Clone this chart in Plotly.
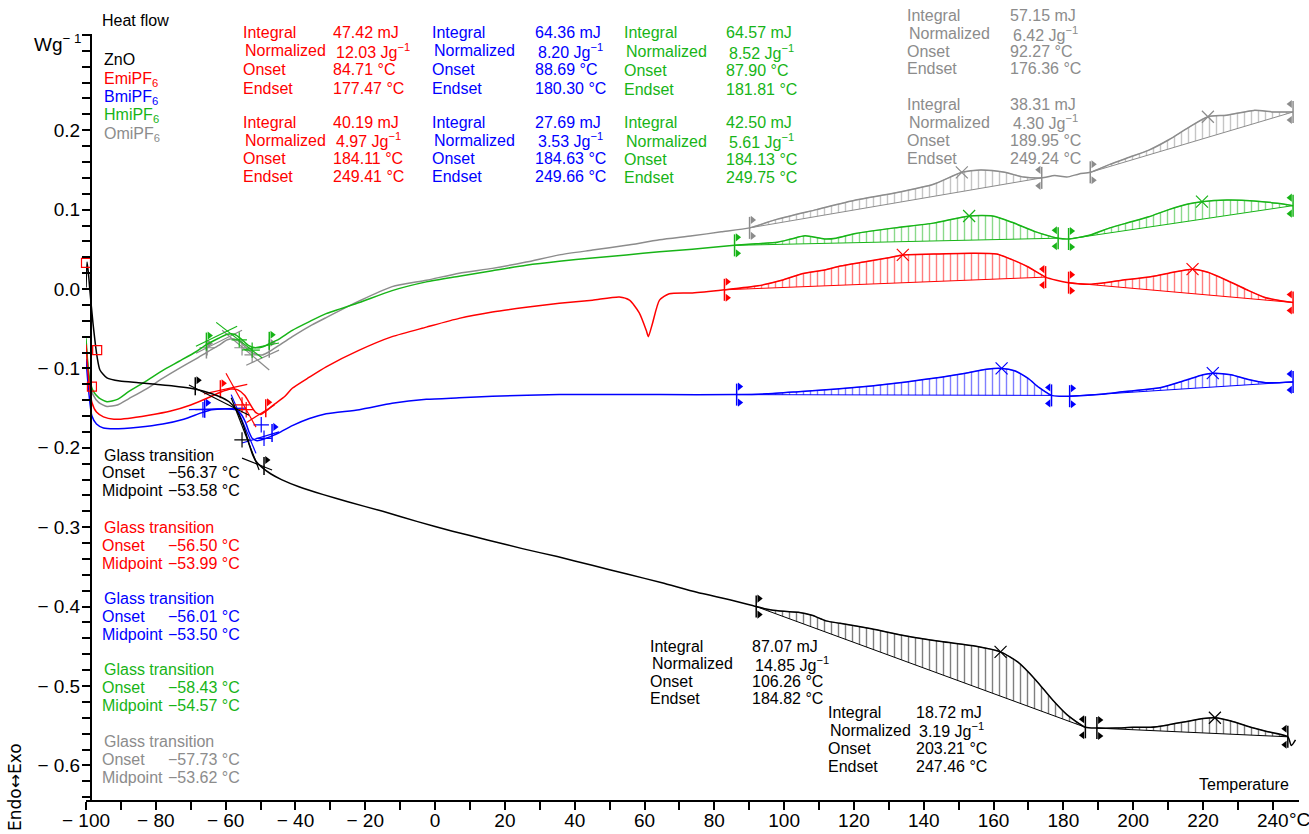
import numpy as np
import plotly.graph_objects as go

FONT = "Liberation Sans, Arial, Helvetica, sans-serif"

C_ZNO = "#000000"
C_EMI = "#ff0000"
C_BMI = "#0000ff"
C_HMI = "#17b417"
C_OMI = "#8c8c8c"

# ---------------- heat-flow curves: temperature (°C) / heat flow (W g-1)
zno_t = [-100, -99.7, -99.3, -98.9, -98, -96.8, -96, -94, -90.3, -85, -80, -75, -70, -66, -62,
         -59, -57, -55.5, -54.3, -53.3, -52.4, -51.3, -49.5, -47, -44, -39, -32, -25, -15, -5,
         5, 15, 25, 35, 45, 55, 65, 75, 85, 92, 96, 100, 104, 108, 112, 116, 125, 135, 145,
         155, 162, 167, 172, 177, 181, 186.3, 189.6, 195, 200, 205, 210, 215, 220, 223.4, 228,
         233, 238, 244.3, 245.3, 246.5]
zno_hf = [0.002, 0.034, 0.020, -0.001, -0.043, -0.086, -0.102, -0.112, -0.116, -0.118, -0.120,
          -0.122, -0.125, -0.129, -0.135, -0.142, -0.152, -0.165, -0.180, -0.195, -0.207, -0.217,
          -0.225, -0.233, -0.240, -0.249, -0.259, -0.268, -0.280, -0.293, -0.305, -0.316, -0.327,
          -0.337, -0.348, -0.359, -0.370, -0.382, -0.392, -0.400, -0.404, -0.406, -0.407, -0.411,
          -0.418, -0.421, -0.428, -0.437, -0.444, -0.450, -0.457, -0.470, -0.492, -0.518, -0.536,
          -0.552, -0.553, -0.553, -0.552, -0.552, -0.549, -0.545, -0.541, -0.540, -0.544, -0.551,
          -0.557, -0.564, -0.575, -0.568]

emi_t = [-100, -99.2, -98.3, -97, -95, -92, -88, -82, -76, -70, -65, -61.5, -58.5, -56.5, -54.5,
         -53, -51.5, -50, -48.5, -46, -43, -40.9, -36, -31.2, -21.7, -12.3, -2.5, 6.9, 16.4, 26.1,
         35.6, 45.1, 52.8, 55.7, 58.5, 60.5, 61.1, 62.3, 64.3, 67.1, 73.7, 82.9, 92.5, 99.3,
         104.9, 111.6, 116.1, 122.8, 129.5, 134.0, 142.8, 154.0, 160.9, 165.3, 169.8, 174.9,
         178.0, 181.5, 187.7, 196.7, 204.5, 210.2, 217.0, 221.4, 226.8, 232.6, 238.0, 245.8]
emi_hf = [-0.070, -0.115, -0.143, -0.155, -0.161, -0.164, -0.163, -0.159, -0.154, -0.146, -0.137,
          -0.130, -0.126, -0.127, -0.134, -0.145, -0.155, -0.158, -0.154, -0.145, -0.135, -0.125,
          -0.111, -0.098, -0.077, -0.060, -0.048, -0.037, -0.029, -0.023, -0.018, -0.014, -0.010,
          -0.014, -0.030, -0.052, -0.060, -0.043, -0.014, -0.006, -0.005, -0.001, 0.004, 0.011,
          0.019, 0.024, 0.029, 0.034, 0.039, 0.043, 0.044, 0.045, 0.044, 0.037, 0.028, 0.015,
          0.011, 0.008, 0.006, 0.011, 0.015, 0.020, 0.025, 0.021, 0.011, -0.001, -0.011, -0.017]

bmi_t = [-100, -99.2, -98.3, -97, -95, -92, -85, -78, -72, -67, -64, -60, -57, -55.5, -54.3,
         -53.3, -52.4, -51, -49, -46.7, -44.7, -40.9, -36, -31.2, -21.7, -12.3, -2.5, 6.9, 16.4,
         35.6, 64.3, 86.4, 95, 105, 115, 125, 135, 145, 152, 158, 162.3, 166, 170, 173, 176.6,
         179, 181.8, 190, 200, 208, 215, 220, 222.8, 228, 233, 238, 245.8]
bmi_hf = [-0.088, -0.130, -0.160, -0.170, -0.175, -0.176, -0.174, -0.170, -0.164, -0.156, -0.152,
          -0.151, -0.152, -0.158, -0.168, -0.180, -0.188, -0.191, -0.189, -0.185, -0.181, -0.172,
          -0.163, -0.157, -0.152, -0.144, -0.139, -0.137, -0.135, -0.133, -0.133, -0.133, -0.132,
          -0.129, -0.126, -0.122, -0.117, -0.111, -0.106, -0.101, -0.100, -0.103, -0.113, -0.124,
          -0.134, -0.135, -0.135, -0.133, -0.128, -0.124, -0.115, -0.108, -0.106, -0.108, -0.114,
          -0.118, -0.117]

hmi_t = [-100, -99.1, -98, -96.3, -94, -91, -87.7, -82.8, -78.2, -73.3, -68.5, -65.5, -62, -59.5,
         -57.5, -55.5, -53.5, -51.5, -49.5, -47.5, -44.7, -40.9, -36, -31.2, -21.7, -12.3, -2.5,
         6.9, 16.4, 26.1, 35.6, 45.1, 54.8, 64.3, 73.7, 85.8, 92, 98.1, 102, 106, 111.6, 114.9,
         120.5, 131.7, 142.8, 153.0, 159.7, 165.3, 172.1, 178.5, 181.5, 187.7, 193.3, 198.9,
         204.5, 210.2, 215.7, 219.7, 226.8, 234.6, 241.3, 245.8]
hmi_hf = [-0.062, -0.110, -0.128, -0.137, -0.142, -0.139, -0.129, -0.116, -0.103, -0.091, -0.079,
          -0.070, -0.062, -0.057, -0.057, -0.063, -0.071, -0.074, -0.073, -0.069, -0.063, -0.052,
          -0.041, -0.031, -0.017, -0.002, 0.009, 0.016, 0.023, 0.030, 0.035, 0.039, 0.043, 0.047,
          0.050, 0.055, 0.057, 0.059, 0.063, 0.067, 0.063, 0.064, 0.070, 0.077, 0.083, 0.092,
          0.092, 0.084, 0.072, 0.064, 0.063, 0.068, 0.077, 0.084, 0.091, 0.100, 0.107, 0.110,
          0.112, 0.111, 0.108, 0.105]

omi_t = [-100, -99, -98, -96.3, -94, -91, -87.7, -82.8, -78.2, -73.3, -68.5, -65.5, -62, -59.5,
         -57.5, -55.5, -53.5, -51.5, -49.5, -47.5, -44.7, -40.9, -36, -31.2, -21.7, -12.3, -2.5,
         6.9, 16.4, 26.1, 35.6, 45.1, 54.8, 64.3, 73.7, 82, 90.1, 98.1, 109.3, 120.5, 131.7,
         142.8, 150.9, 156.3, 163.2, 168.6, 173.8, 177.5, 181, 184.5, 187.7, 193.3, 198.9, 204.5,
         210.2, 215.7, 221.4, 226.8, 234.6, 240.2, 245.8]
omi_hf = [-0.070, -0.115, -0.133, -0.143, -0.148, -0.146, -0.138, -0.126, -0.113, -0.100, -0.088,
          -0.080, -0.071, -0.064, -0.063, -0.068, -0.077, -0.082, -0.083, -0.079, -0.071, -0.060,
          -0.047, -0.036, -0.015, 0.003, 0.011, 0.020, 0.026, 0.034, 0.043, 0.049, 0.055, 0.062,
          0.067, 0.072, 0.077, 0.088, 0.100, 0.112, 0.121, 0.132, 0.147, 0.150, 0.147, 0.141,
          0.140, 0.143, 0.141, 0.145, 0.147, 0.157, 0.166, 0.175, 0.188, 0.203, 0.217, 0.219,
          0.225, 0.223, 0.223]

# ---------------- integration windows: (start °C, end °C, peak °C)
zno_windows = [(92.0, 186.3, 162.0), (189.6, 244.3, 223.4)]
emi_windows = [(82.9, 174.9, 134.0), (181.5, 245.8, 217.0)]
bmi_windows = [(86.4, 176.6, 162.3), (181.8, 245.8, 222.8)]
hmi_windows = [(85.8, 178.5, 153.0), (181.5, 245.8, 219.7)]
omi_windows = [(90.1, 173.8, 150.9), (187.7, 245.8, 221.4)]

# ---------------- glass transition: limits (°C), tangent segments, marks
zno_gt_limits = (-68.7, -49.0)
emi_gt_limits = (-61.5, -48.5)
bmi_gt_limits = (-66.0, -46.7)
hmi_gt_limits = (-65.5, -47.5)
omi_gt_limits = (-65.5, -47.5)

zno_gt_tangents = [((-70.5, -0.121), (-53.3, -0.159)), ((-58.4, -0.137), (-50.4, -0.228)),
                   ((-55.3, -0.213), (-46.7, -0.228))]
emi_gt_tangents = [((-66.2, -0.132), (-53.8, -0.120)), ((-59.9, -0.106), (-51.3, -0.174)),
                   ((-54.0, -0.168), (-46.0, -0.146))]
bmi_gt_tangents = [((-70.5, -0.152), (-54.1, -0.150)), ((-58.4, -0.133), (-51.3, -0.207)),
                   ((-55.3, -0.194), (-44.7, -0.180))]
hmi_gt_tangents = [((-68.5, -0.072), (-56.7, -0.047)), ((-62.7, -0.042), (-49.5, -0.087)),
                   ((-55.3, -0.077), (-44.7, -0.068))]
omi_gt_tangents = [((-68.5, -0.081), (-55.3, -0.052)), ((-61.0, -0.052), (-47.5, -0.102)),
                   ((-54.1, -0.096), (-44.7, -0.077))]

zno_gt_marks = [(-55.3, -0.190)]
emi_gt_marks = [(-55.3, -0.146), (-54.1, -0.152)]
bmi_gt_marks = [(-66.5, -0.152), (-49.8, -0.171), (-49.0, -0.188)]
hmi_gt_marks = [(-56.1, -0.064), (-52.4, -0.077)]
omi_gt_marks = [(-65.3, -0.074), (-55.3, -0.074), (-52.4, -0.083)]

# cursor boxes at the start of the run
cursor_t = [-100.0, -100.9, -96.8, -100.6, -98.3]
cursor_hf = [0.033, -0.067, -0.077, -0.092, -0.123]

# ---------------- tables of results
int_labels = ["Integral", "Normalized", "Onset", "Endset"]
emi_int = [["47.42 mJ", "12.03 Jg<sup>−1</sup>", "84.71 °C", "177.47 °C"],
           ["40.19 mJ", "4.97 Jg<sup>−1</sup>", "184.11 °C", "249.41 °C"]]
bmi_int = [["64.36 mJ", "8.20 Jg<sup>−1</sup>", "88.69 °C", "180.30 °C"],
           ["27.69 mJ", "3.53 Jg<sup>−1</sup>", "184.63 °C", "249.66 °C"]]
hmi_int = [["64.57 mJ", "8.52 Jg<sup>−1</sup>", "87.90 °C", "181.81 °C"],
           ["42.50 mJ", "5.61 Jg<sup>−1</sup>", "184.13 °C", "249.75 °C"]]
omi_int = [["57.15 mJ", "6.42 Jg<sup>−1</sup>", "92.27 °C", "176.36 °C"],
           ["38.31 mJ", "4.30 Jg<sup>−1</sup>", "189.95 °C", "249.24 °C"]]
zno_int = [["87.07 mJ", "14.85 Jg<sup>−1</sup>", "106.26 °C", "184.82 °C"],
           ["18.72 mJ", "3.19 Jg<sup>−1</sup>", "203.21 °C", "247.46 °C"]]

gt_labels = ["Glass transition", "Onset", "Midpoint"]
zno_gt = ["−56.37 °C", "−53.58 °C"]
emi_gt = ["−56.50 °C", "−53.99 °C"]
bmi_gt = ["−56.01 °C", "−53.50 °C"]
hmi_gt = ["−58.43 °C", "−54.57 °C"]
omi_gt = ["−57.73 °C", "−53.62 °C"]

names = ["ZnO", "EmiPF<sub>6</sub>", "BmiPF<sub>6</sub>", "HmiPF<sub>6</sub>", "OmiPF<sub>6</sub>"]

x_ticks = list(range(-100, 241, 20))
x_ticktext = [("− " + str(-v)) if v < 0 else str(v) for v in x_ticks]
y_ticks = [0.2, 0.1, 0.0, -0.1, -0.2, -0.3, -0.4, -0.5, -0.6]
y_ticktext = ["0.2", "0.1", "0.0", "− 0.1", "− 0.2", "− 0.3", "− 0.4", "− 0.5", "− 0.6"]

# ---------------- geometry of the plotting area
W, H = 1309, 834
ML, MR, MT, MB = 86, 10, 34, 34
PW, PH = W - ML - MR, H - MT - MB
X0, X1 = -100.0, 247.5
Y0, Y1 = -0.6436, 0.3212
DX = (X1 - X0) / PW      # °C per pixel
DY = (Y1 - Y0) / PH      # W g-1 per pixel
TXT = 16

series = [
    dict(t=zno_t, hf=zno_hf, c=C_ZNO, win=zno_windows, gl=zno_gt_limits, tg=zno_gt_tangents, mk=zno_gt_marks),
    dict(t=emi_t, hf=emi_hf, c=C_EMI, win=emi_windows, gl=emi_gt_limits, tg=emi_gt_tangents, mk=emi_gt_marks),
    dict(t=bmi_t, hf=bmi_hf, c=C_BMI, win=bmi_windows, gl=bmi_gt_limits, tg=bmi_gt_tangents, mk=bmi_gt_marks),
    dict(t=hmi_t, hf=hmi_hf, c=C_HMI, win=hmi_windows, gl=hmi_gt_limits, tg=hmi_gt_tangents, mk=hmi_gt_marks),
    dict(t=omi_t, hf=omi_hf, c=C_OMI, win=omi_windows, gl=omi_gt_limits, tg=omi_gt_tangents, mk=omi_gt_marks),
]

fig = go.Figure()
SPL = dict(shape="spline", smoothing=0.6)

for s in reversed(series):
    t = np.asarray(s["t"], float)
    hf = np.asarray(s["hf"], float)
    c = s["c"]

    # hatched integration areas between curve and straight baseline
    for (a, b, pk) in s["win"]:
        ya, yb = np.interp(a, t, hf), np.interp(b, t, hf)
        fig.add_trace(go.Scatter(x=[a, b], y=[ya, yb], mode="lines",
                                 line=dict(color=c, width=1), hoverinfo="skip"))
        m = (t >= a - 1e-9) & (t <= b + 1e-9)
        fig.add_trace(go.Scatter(x=t[m], y=hf[m], mode="lines", line=dict(color=c, width=0.5, **SPL),
                                 fill="tonexty", fillcolor="rgba(0,0,0,0)",
                                 fillpattern=dict(shape="|", size=7, solidity=0.2,
                                                  fgcolor=c, bgcolor="rgba(0,0,0,0)"),
                                 hoverinfo="skip"))

    # the curve itself
    fig.add_trace(go.Scatter(x=t, y=hf, mode="lines", line=dict(color=c, width=1.5, **SPL)))

    # integration limit flags and peak crosses
    bx, by, trx, tr_y, tlx, tl_y, pkx, pky = [], [], [], [], [], [], [], []
    for (a, b, pk) in s["win"]:
        for xv, sgn in ((a, 1), (b, -1)):
            yv = np.interp(xv, t, hf)
            bx += [xv, xv, None]
            by += [yv - 11 * DY, yv + 11 * DY, None]
            xs = xv + sgn * 3 * DX
            if sgn > 0:
                trx += [xs, xs]; tr_y += [yv + 8 * DY, yv - 8 * DY]
            else:
                tlx += [xs, xs]; tl_y += [yv + 8 * DY, yv - 8 * DY]
        pkx.append(pk); pky.append(np.interp(pk, t, hf))

    # glass transition construction
    ga, gb = s["gl"]
    for xv in (ga, gb):
        yv = np.interp(xv, t, hf)
        bx += [xv, xv, None]
        by += [yv - 6 * DY, yv + 12 * DY, None]
        trx.append(xv + 3 * DX); tr_y.append(yv + 9 * DY)
    tgx, tgy = [], []
    for (p, q) in s["tg"]:
        tgx += [p[0], q[0], None]
        tgy += [p[1], q[1], None]

    fig.add_trace(go.Scatter(x=bx, y=by, mode="lines", line=dict(color=c, width=1.5), hoverinfo="skip"))
    fig.add_trace(go.Scatter(x=tgx, y=tgy, mode="lines", line=dict(color=c, width=1.2), hoverinfo="skip"))
    fig.add_trace(go.Scatter(x=trx, y=tr_y, mode="markers",
                             marker=dict(symbol="triangle-right", size=7, color=c, line=dict(width=0))))
    if tlx:
        fig.add_trace(go.Scatter(x=tlx, y=tl_y, mode="markers",
                                 marker=dict(symbol="triangle-left", size=7, color=c, line=dict(width=0))))
    fig.add_trace(go.Scatter(x=pkx, y=pky, mode="markers",
                             marker=dict(symbol="x-thin", size=12, line=dict(color=c, width=1.2))))
    fig.add_trace(go.Scatter(x=[m_[0] for m_ in s["mk"]], y=[m_[1] for m_ in s["mk"]], mode="markers",
                             marker=dict(symbol="cross-thin", size=11, line=dict(color=c, width=1.2))))

fig.add_trace(go.Scatter(x=cursor_t, y=cursor_hf, mode="markers", cliponaxis=False,
                         marker=dict(symbol="square-open", size=9, color=C_EMI, line=dict(width=1.2))))


def px_paper(px, py):
    return (px - ML) / PW, (H - MB - py) / PH


def text(px, py, s, color, size=TXT, anchor="left", family=FONT, **kw):
    xp, yp = px_paper(px, py)
    fig.add_annotation(xref="paper", yref="paper", x=xp, y=yp, text=s, showarrow=False,
                       xanchor=anchor, yanchor="middle", font=dict(family=family, size=size, color=color), **kw)


# titles and sample names
text(100, 20, "Heat flow", "black", size=16)
for nm, c, py in zip(names, [C_ZNO, C_EMI, C_BMI, C_HMI, C_OMI], [60, 79, 97, 116, 134]):
    text(102, py, nm, c)
text(83, 43, "Wg<sup>− 1</sup>", "black", size=19, anchor="right")
text(1291, 784, "Temperature", "black", size=16, anchor="right")
text(1300, 820, "°C", "black", size=19, anchor="center")
text(15, 787, "Endo↔Exo", "black", size=17, anchor="center", textangle=-90, family="DejaVu Sans")

# integration result tables: (values, colour, label x, value x, first row y, row step)
tables = [
    (emi_int[0], C_EMI, 241, 331, 32, 18.7), (emi_int[1], C_EMI, 241, 331, 122, 18.2),
    (bmi_int[0], C_BMI, 430, 533, 32, 18.7), (bmi_int[1], C_BMI, 430, 533, 122, 18.2),
    (hmi_int[0], C_HMI, 622, 724, 33, 18.7), (hmi_int[1], C_HMI, 622, 724, 123, 18.2),
    (omi_int[0], C_OMI, 905, 1008, 16, 17.5), (omi_int[1], C_OMI, 905, 1008, 104, 18),
    (zno_int[0], C_ZNO, 648, 750, 646, 17.5), (zno_int[1], C_ZNO, 826, 914, 712, 18),
]
for vals, c, lx, vx, y0, step in tables:
    for i, (lab, v) in enumerate(zip(int_labels, vals)):
        text(lx + (2 if i == 1 else 0), y0 + i * step, lab, c)
        text(vx + (3 if i == 1 else 0), y0 + i * step, v, c)

gt_tables = [(zno_gt, C_ZNO, 455), (emi_gt, C_EMI, 527), (bmi_gt, C_BMI, 598),
             (hmi_gt, C_HMI, 669), (omi_gt, C_OMI, 741)]
for vals, c, y0 in gt_tables:
    text(102, y0, gt_labels[0], c)
    text(100, y0 + 18, gt_labels[1], c)
    text(100, y0 + 36, gt_labels[2], c)
    text(166, y0 + 18, vals[0], c)
    text(166, y0 + 36, vals[1], c)

fig.update_layout(
    width=W, height=H, margin=dict(l=ML, r=MR, t=MT, b=MB, autoexpand=False),
    paper_bgcolor="white", plot_bgcolor="white", showlegend=False,
    font=dict(family=FONT, color="black"),
    xaxis=dict(range=[X0, X1], showgrid=False, zeroline=False, showline=True, linecolor="black",
               linewidth=2, ticks="outside", ticklen=8, tickwidth=1.5, tickcolor="black",
               tickvals=x_ticks, ticktext=x_ticktext, tickfont=dict(size=19, family=FONT),
               ticklabelstandoff=-6, automargin=False,
               minor=dict(dtick=10, tick0=0, ticks="outside", ticklen=8, tickwidth=1.5, tickcolor="black")),
    yaxis=dict(range=[Y0, Y1], showgrid=False, zeroline=False, showline=True, linecolor="black",
               linewidth=2, ticks="outside", ticklen=8, tickwidth=1.5, tickcolor="black",
               tickvals=y_ticks, ticktext=y_ticktext, tickfont=dict(size=19, family=FONT),
               ticklabelstandoff=-2, anchor="free", position=5 / PW, automargin=False,
               minor=dict(dtick=0.02, tick0=0, ticks="outside", ticklen=8, tickwidth=1.5, tickcolor="black")),
)

fig.write_html("out.html")
